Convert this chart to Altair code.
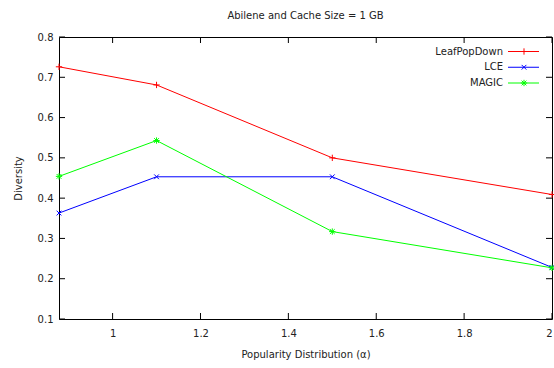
import altair as alt
import pandas as pd

# ---- data ----
alpha = [0.878, 1.1, 1.5, 2.0]
leafpopdown = [0.726, 0.681, 0.500, 0.409]
lce = [0.363, 0.453, 0.453, 0.228]
magic = [0.454, 0.543, 0.317, 0.227]

series_names = ["LeafPopDown", "LCE", "MAGIC"]
series_colors = ["#ff0000", "#0000ff", "#00ff00"]
x_ticks = [1.0, 1.2, 1.4, 1.6, 1.8, 2.0]
y_ticks = [0.1, 0.2, 0.3, 0.4, 0.5, 0.6, 0.7, 0.8]

plus = "M-1,0L1,0M0,-1L0,1"
cross = "M-0.75,-0.75L0.75,0.75M-0.75,0.75L0.75,-0.75"
star = plus + cross
series_shapes = [plus, cross, star]

rows = []
for name, vals in zip(series_names, [leafpopdown, lce, magic]):
    for a, v in zip(alpha, vals):
        rows.append({"series": name, "alpha": a, "diversity": v})
df = pd.DataFrame(rows)
legend_df = pd.DataFrame({"series": series_names})
xt_df = pd.DataFrame({"alpha": x_ticks})
yt_df = pd.DataFrame({"diversity": y_ticks})

W, H = 493, 282
FONT = "DejaVu Sans"

xscale = alt.Scale(domain=[alpha[0], 2.0], nice=False, zero=False)
yscale = alt.Scale(domain=[0.1, 0.8], nice=False, zero=False)
xaxis = alt.Axis(values=x_ticks, format="~g", title="Popularity Distribution (\u03b1)",
                 labelPadding=9, titlePadding=11)
yaxis = alt.Axis(values=y_ticks, format=".1f", title="Diversity",
                 labelPadding=6, titlePadding=14)
cscale = alt.Scale(domain=series_names, range=series_colors)
sscale = alt.Scale(domain=series_names, range=series_shapes)

X = alt.X("alpha:Q", scale=xscale, axis=xaxis)
Y = alt.Y("diversity:Q", scale=yscale, axis=yaxis)
C = alt.Color("series:N", scale=cscale, legend=None)
S = alt.Shape("series:N", scale=sscale, legend=None)

lines = alt.Chart(df).mark_line(strokeWidth=1).encode(x=X, y=Y, color=C, detail="series:N")
points = alt.Chart(df).mark_point(filled=False, size=40, strokeWidth=1, opacity=1).encode(
    x=X, y=Y, color=C, shape=S)

tick_len = 6
xt_bottom = alt.Chart(xt_df).mark_rule(color="black", strokeWidth=1).encode(
    x=X, y=alt.value(H), y2=alt.value(H - tick_len))
xt_top = alt.Chart(xt_df).mark_rule(color="black", strokeWidth=1).encode(
    x=X, y=alt.value(0), y2=alt.value(tick_len))
yt_left = alt.Chart(yt_df).mark_rule(color="black", strokeWidth=1).encode(
    y=Y, x=alt.value(0), x2=alt.value(tick_len))
yt_right = alt.Chart(yt_df).mark_rule(color="black", strokeWidth=1).encode(
    y=Y, x=alt.value(W), x2=alt.value(W - tick_len))

main = alt.layer(xt_bottom, xt_top, yt_left, yt_right, lines, points)

LY = alt.Y("series:N", sort=series_names,
           scale=alt.Scale(type="point", domain=series_names, range=[14.5, 46], padding=0),
           axis=None)
leg_text = alt.Chart(legend_df).mark_text(align="right", baseline="middle", font=FONT,
                                          fontSize=10, color="#222").encode(
    y=LY, x=alt.value(444), text="series:N")
leg_rule = alt.Chart(legend_df).mark_rule(strokeWidth=1).encode(
    y=LY, x=alt.value(449), x2=alt.value(480), color=C)
leg_pt = alt.Chart(legend_df).mark_point(filled=False, size=40, strokeWidth=1, opacity=1).encode(
    y=LY, x=alt.value(465), color=C, shape=S)

chart = alt.layer(main, leg_rule, leg_pt, leg_text).resolve_scale(y="independent").properties(
    width=W, height=H,
    autosize=alt.AutoSizeParams(type="none"),
    padding={"left": 59, "top": 37, "right": 2, "bottom": 49},
    title=alt.TitleParams("Abilene and Cache Size = 1 GB", font=FONT, fontSize=10,
                          fontWeight="normal", color="#222", anchor="middle", offset=11),
    background="white",
).configure_view(stroke="black", strokeWidth=1).configure_axis(
    ticks=False, domain=False, grid=False,
    labelFont=FONT, labelFontSize=10, labelColor="#222",
    titleFont=FONT, titleFontSize=10, titleFontWeight="normal", titleColor="#222",
)

chart.save("out.html", embed_options={"renderer": "svg", "actions": False})
